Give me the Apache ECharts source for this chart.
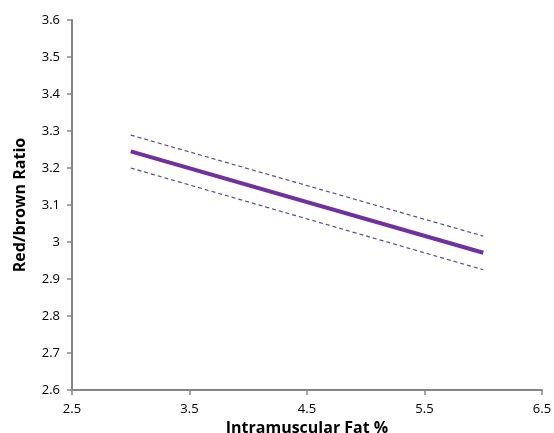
<!DOCTYPE html>
<html>
<head>
    <meta charset="utf-8" />
    <title>Red/brown ratio</title>
    <script src="https://cdn.jsdelivr.net/npm/echarts@6/dist/echarts.min.js"></script>
    <style>
        html, body { margin: 0; padding: 0; background: #fff; }
        #main { width: 554px; height: 433px; }
    </style>
</head>
<body>
    <div id="main"></div>
</body>
<script>
    // 数据
    var fatX = [3, 6];
    var ratioFit = [3.245, 2.971];
    var ratioUpper = [3.289, 3.016];
    var ratioLower = [3.200, 2.925];

    function pairs(ys) {
        return fatX.map(function (x, i) { return [x, ys[i]]; });
    }

    var axisColor = '#868686';
    var font = '"Open Sans", "Liberation Sans", sans-serif';

    var myChart = echarts.init(document.getElementById('main'));

    var option = {
        animation: false,
        grid: { left: 72, right: 12, top: 20, bottom: 43, outerBoundsMode: 'none' },
        xAxis: {
            type: 'value',
            min: 2.5,
            max: 6.5,
            interval: 1,
            name: 'Intramuscular Fat %',
            nameLocation: 'middle',
            nameGap: 28,
            nameTextStyle: { fontFamily: font, fontWeight: 'bold', fontSize: 16, color: '#000' },
            axisLine: { lineStyle: { color: axisColor, width: 2 } },
            axisTick: { show: true, length: 5, lineStyle: { color: axisColor, width: 1.5 } },
            axisLabel: { fontFamily: font, fontSize: 13, color: '#000', margin: 13 },
            splitLine: { show: false }
        },
        yAxis: {
            type: 'value',
            min: 2.6,
            max: 3.6,
            interval: 0.1,
            name: 'Red/brown Ratio',
            nameLocation: 'middle',
            nameGap: 44,
            nameTextStyle: { fontFamily: font, fontWeight: 'bold', fontSize: 16, color: '#000' },
            axisLine: { show: true, lineStyle: { color: axisColor, width: 2 } },
            axisTick: { show: true, length: 5, lineStyle: { color: axisColor, width: 1.5 } },
            axisLabel: {
                fontFamily: font, fontSize: 13, color: '#000', margin: 12,
                formatter: function (v) { return String(Math.round(v * 10) / 10); }
            },
            splitLine: { show: false }
        },
        series: [
            {
                type: 'line',
                data: pairs(ratioUpper),
                symbol: 'none',
                lineStyle: { color: '#5F4B8B', width: 1.2, type: [4, 3] }
            },
            {
                type: 'line',
                data: pairs(ratioLower),
                symbol: 'none',
                lineStyle: { color: '#5F4B8B', width: 1.2, type: [4, 3] }
            },
            {
                type: 'line',
                data: pairs(ratioFit),
                symbol: 'none',
                lineStyle: { color: '#7030A0', width: 4 }
            }
        ]
    };

    myChart.setOption(option);
</script>
</html>
